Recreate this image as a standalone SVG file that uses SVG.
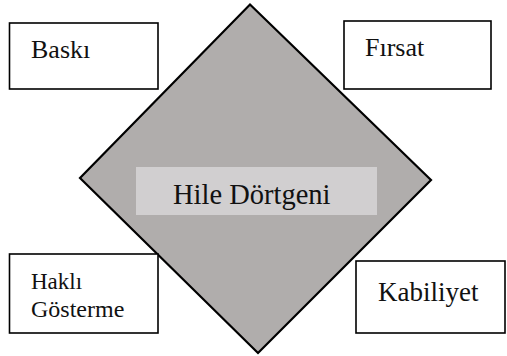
<svg xmlns="http://www.w3.org/2000/svg" width="507" height="356" viewBox="0 0 507 356">
<style>
.box{fill:#fff;stroke:#000;stroke-width:1.6}
.t{font-family:'Liberation Serif','Times New Roman','DejaVu Serif',serif;fill:#111}
</style>
<rect width="507" height="356" fill="#fff"/>
<g id="hile-dortgeni">
<polygon points="250,4.5 431,180 258,353 80,178" fill="#b0adac" stroke="#000" stroke-width="2.2" stroke-linejoin="miter"/>
<rect x="136" y="167" width="241" height="48" fill="#d1cfd0"/>
<text class="t" x="173" y="204" font-size="28.5" font-family="Liberation Serif, serif">Hile Dörtgeni</text>
</g>
<g id="baski">
<rect class="box" x="9.5" y="23" width="148.5" height="66"/>
<text class="t" x="31" y="58" font-size="26" font-family="Liberation Serif, serif">Baskı</text>
</g>
<g id="firsat">
<rect class="box" x="344" y="21" width="147" height="68"/>
<text class="t" x="365" y="56" font-size="26" font-family="Liberation Serif, serif">Fırsat</text>
</g>
<g id="hakli-gosterme">
<rect class="box" x="9.5" y="254" width="148.5" height="79"/>
<text class="t" x="31" y="289" font-size="23" font-family="Liberation Serif, serif">Haklı</text>
<text class="t" x="31" y="317" font-size="24" font-family="Liberation Serif, serif">Gösterme</text>
</g>
<g id="kabiliyet">
<rect class="box" x="356" y="261" width="149" height="72"/>
<text class="t" x="378" y="301" font-size="27" font-family="Liberation Serif, serif">Kabiliyet</text>
</g>
<g id="connectors"/>
</svg>
